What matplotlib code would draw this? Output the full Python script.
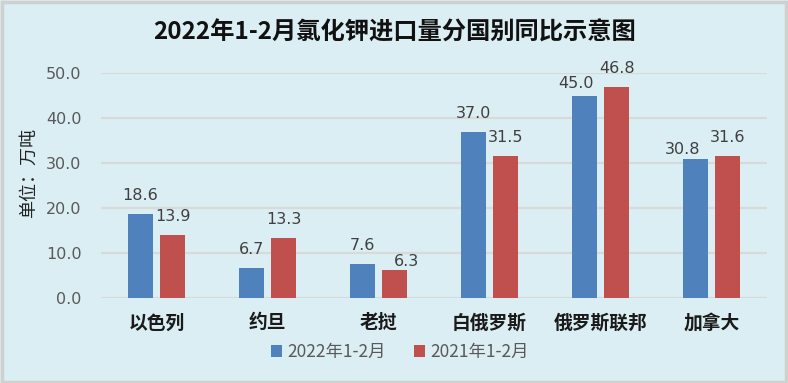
import matplotlib
matplotlib.use("Agg")
import matplotlib.pyplot as plt
import numpy as np
from matplotlib.patches import Rectangle

plt.rcParams['font.family'] = ['Noto Sans CJK SC', 'DejaVu Sans']

# ── Data ──────────────────────────────────────────────────────────────
countries = ["以色列", "约旦", "老挝", "白俄罗斯", "俄罗斯联邦", "加拿大"]
imports_2022 = [18.6, 6.7, 7.6, 37.0, 45.0, 30.8]
imports_2021 = [13.9, 13.3, 6.3, 31.5, 46.8, 31.6]
series_labels = ["2022年1-2月", "2021年1-2月"]
yticks = [0, 10, 20, 30, 40, 50]

BG = "#DAEEF3"
BLUE = "#4F81BD"
RED = "#C0504D"

# labels nudged by hand in the original chart: (series, index) -> (dx, dy) pixels
nudges = {(0, 4): (-8, -6), (0, 5): (-13, -9), (1, 2): (12, -10)}

fig = plt.figure(figsize=(7.88, 3.83), dpi=100, facecolor=BG)
ax = fig.add_axes([101 / 788, 1 - 298 / 383, 666 / 788, 225 / 383])
ax.set_facecolor(BG)

x = np.arange(len(countries))
w = 0.225
off = 0.145
b1 = ax.bar(x - off, imports_2022, w, color=BLUE, zorder=3)
b2 = ax.bar(x + off, imports_2021, w, color=RED, zorder=3)

for si, (xs, vals) in enumerate([(x - off, imports_2022), (x + off, imports_2021)]):
    for i, (xi, v) in enumerate(zip(xs, vals)):
        dx, dy = nudges.get((si, i), (0, 0))
        ax.annotate(f"{v:.1f}", (xi, v), xytext=(dx, 11 + dy),
                    textcoords="offset pixels", ha="center", va="bottom",
                    fontsize=11.5, color="#404040", family="DejaVu Sans")

ax.set_xlim(-0.5, len(countries) - 0.5)
ax.set_ylim(0, 50)
ax.set_yticks(yticks)
ax.set_yticklabels([f"{v:.1f}" for v in yticks], color="#595959",
                   fontsize=11.5, family="DejaVu Sans")
ax.yaxis.grid(True, color="#D9D9D9", linewidth=1.5, zorder=0)
ax.tick_params(axis="y", length=0, pad=14)
ax.tick_params(axis="x", length=0, pad=11)
ax.set_xticks(x)
ax.set_xticklabels(countries, fontsize=13.5, fontweight="bold", color="#1a1a1a")
for s in ax.spines.values():
    s.set_visible(False)

fig.text(29 / 788, 1 - 173 / 383, "单位：万吨", rotation=90, ha="center",
         va="center", fontsize=13, color="#222222")

fig.text(395 / 788, 1 - 33 / 383, "2022年1-2月氯化钾进口量分国别同比示意图",
         ha="center", va="center", fontsize=17.5, fontweight="bold", color="#111111")

leg = fig.legend([b1, b2], series_labels, loc="center",
                 bbox_to_anchor=(400 / 788, 1 - 352 / 383), ncol=2, frameon=False,
                 handlelength=0.65, handleheight=0.65, handletextpad=0.3,
                 columnspacing=1.6, fontsize=12.5)
for t in leg.get_texts():
    t.set_color("#595959")

fig.patches.append(Rectangle((0.002, 0.003), 0.995, 0.993, transform=fig.transFigure,
                             fill=False, edgecolor="#D0D0D0", linewidth=2.5))

fig.savefig("out.png", dpi=100, facecolor=BG)
